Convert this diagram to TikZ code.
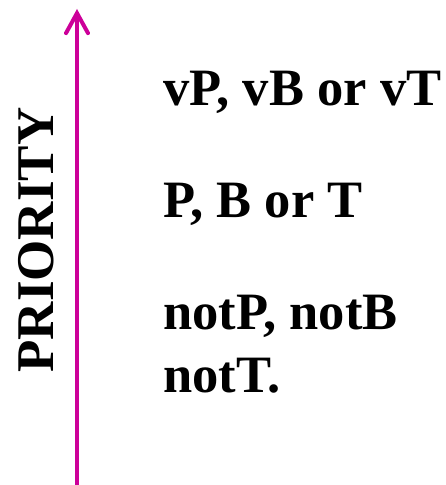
\documentclass[tikz,border=0pt]{standalone}
\usepackage{fontspec}
\setmainfont{Liberation Serif}
\definecolor{prioritymagenta}{RGB}{204,0,153}
\usetikzlibrary{arrows.meta, positioning}

\begin{document}
\begin{tikzpicture}[x=1pt, y=1pt,
    level/.style={inner sep=0pt, anchor=base west, align=left,
                  font=\fontsize{52.5}{63}\selectfont\bfseries},
    axis/.style={-{Straight Barb[length=20pt, width=22pt, line cap=round]},
                 line width=4pt, prioritymagenta}
  ]
  \useasboundingbox (0,0) rectangle (445,485);

  \coordinate (axisbot) at (77,0);
  \coordinate (axistop) at (77,476);
  \draw[axis] (axisbot) -- (axistop);

  \node[inner sep=0pt, rotate=90, font=\fontsize{53}{63}\selectfont\bfseries]
    (priority) at (36.5,245) {PRIORITY};

  \node[level] (high) at (163,379) {vP, vB or vT};
  \node[level] (mid) at (163,267) {P, B or T};
  \node[level] (low) at (163,92) {notP, notB\\notT.};
\end{tikzpicture}
\end{document}
